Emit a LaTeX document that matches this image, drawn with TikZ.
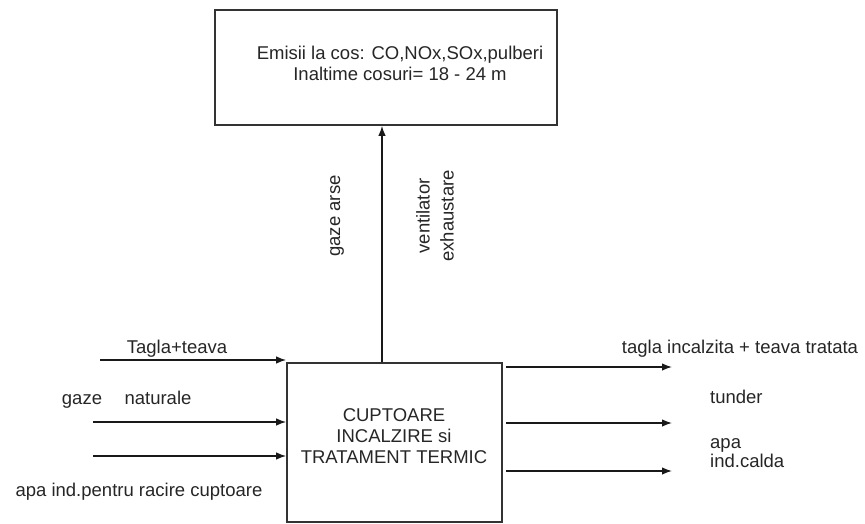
\documentclass[tikz,border=0pt]{standalone}
\usepackage{fontspec}
\setmainfont{Liberation Sans}
\usetikzlibrary{arrows.meta,calc}
\begin{document}
\begin{tikzpicture}[x=1pt,y=-1pt,
  txt/.style={inner sep=0pt,text=black!85,font=\fontsize{18.5}{21}\selectfont},
  boxst/.style={draw=black!80,line width=1.7pt,inner sep=0pt},
  arr/.style={draw=black!90,line width=1.4pt,-{Latex[length=10pt,width=7.5pt]}}]
\useasboundingbox (0,0) rectangle (865,524);
% top box
\node[boxst,minimum width=342pt,minimum height=115pt] (emisbox) at (386,67.5) {};
\node[txt,align=center] (emistxt) at (400,63) {Emisii la cos: CO,NOx,SOx,pulberi\\Inaltime cosuri= 18 - 24 m};
% furnace box
\node[boxst,minimum width=215pt,minimum height=159pt] (furn) at (394.5,442.5) {};
\node[txt,align=center] (furntxt) at (394,436) {CUPTOARE\\INCALZIRE si\\TRATAMENT TERMIC};
% vertical connector
\draw[arr] ([xshift=-12.5pt]furn.north) -- ([xshift=-12.5pt]furn.north |- emisbox.south);
\node[txt,rotate=90] (gazearse) at (337,216) {gaze arse};
\node[txt,rotate=90,align=center,font=\fontsize{18.5}{24}\selectfont] (vent) at (435,216) {ventilator\\exhaustare};
% inputs
\coordinate (in1) at (100,360);
\coordinate (in2) at (93,422);
\coordinate (in3) at (93,456);
\draw[arr] (in1) -- (in1 -| furn.west);
\draw[arr] (in2) -- (in2 -| furn.west);
\draw[arr] (in3) -- (in3 -| furn.west);
\node[txt] (tagla) at (177,349) {Tagla+teava};
\node[txt,anchor=base] (gaze) at (82,404) {gaze};
\node[txt,anchor=base] (natur) at (158,404) {naturale};
\node[txt] (apaind) at (139,492) {apa ind.pentru racire cuptoare};
% outputs
\coordinate (o1) at (672,367);
\coordinate (o2) at (672,423);
\coordinate (o3) at (672,471);
\draw[arr] ([xshift=3pt]furn.east |- o1) -- (o1);
\draw[arr] ([xshift=3pt]furn.east |- o2) -- (o2);
\draw[arr] ([xshift=3pt]furn.east |- o3) -- (o3);
\node[txt] (taglainc) at (740,349) {tagla incalzita + teava tratata};
\node[txt,anchor=west] (tunder) at (710,397) {tunder};
\node[txt,anchor=base west] (apa) at (710,448) {apa};
\node[txt,anchor=base west] (indcalda) at (710,467) {ind.calda};
\end{tikzpicture}
\end{document}
